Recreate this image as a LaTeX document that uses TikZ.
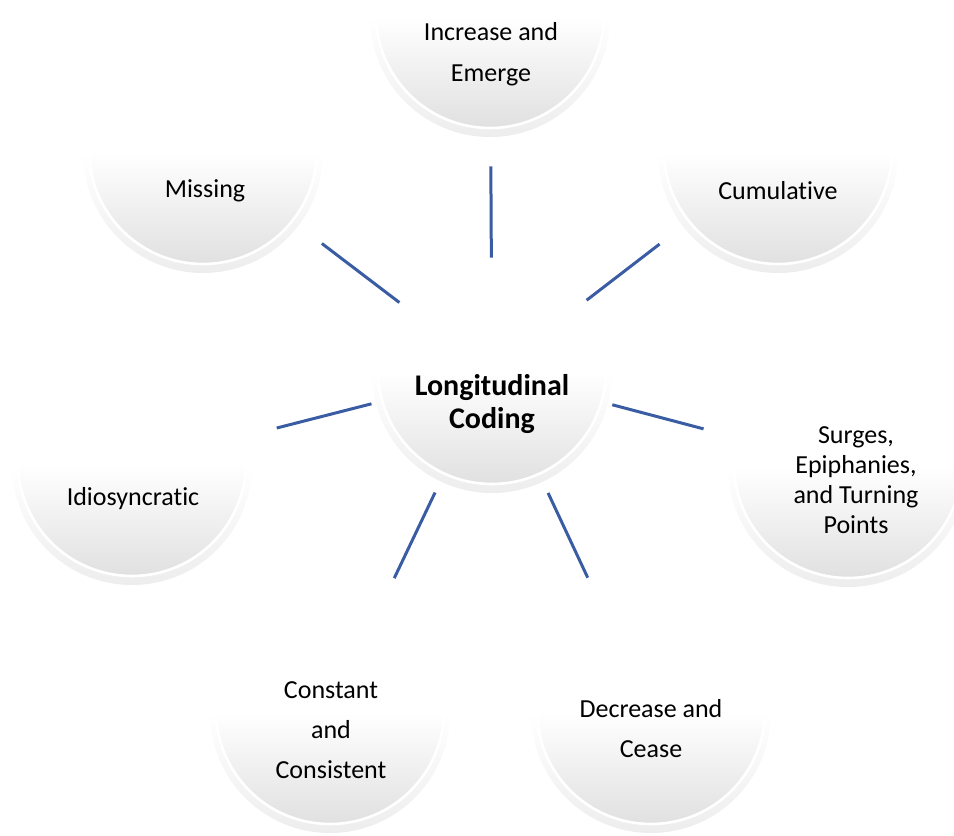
\documentclass[tikz,border=0pt]{standalone}
\usepackage{fontspec}
\setmainfont{Carlito}[Ligatures=NoCommon]
\usepackage{tikz}

\definecolor{spokeblue}{RGB}{58,92,163}

\begin{document}
\begin{tikzpicture}[x=0.5pt,y=-0.5pt,
  outer node/.style={circle,minimum size=120pt,inner sep=0pt,
    top color=white,bottom color=black!7,middle color=white,
    path picture={
      \shade[top color=white,bottom color=black!13,middle color=white]
        ([yshift=1.5pt]path picture bounding box.center) circle (57pt);
      \draw[white,line width=1.3pt]
        ([yshift=1.5pt]path picture bounding box.center) circle (57pt);}},
  hub node/.style={outer node},
  label text/.style={align=center,font=\fontsize{13}{20.5}\selectfont},
  hub text/.style={align=center,font=\fontsize{15}{16.5}\selectfont\bfseries},
  spoke/.style={draw=spokeblue,line width=1.5pt,shorten >=14.5pt}]

  \useasboundingbox (0,0) rectangle (954,836);

  \node[hub node] (hub) at (492,373) {};
  \node[outer node] (1) at (490,17) {};
  \node[outer node] (2) at (778,153) {};
  \node[outer node] (3) at (848,467) {};
  \node[outer node] (4) at (651,713) {};
  \node[outer node] (5) at (330,713) {};
  \node[outer node] (6) at (132,465) {};
  \node[outer node] (7) at (203,153) {};

  \node[hub text] (hub-t) at (492,404) {Longitudinal\\Coding};
  \node[label text] (1-t) at (491,54) {Increase and\\Emerge};
  \node[label text] (2-t) at (778,191) {Cumulative};
  \node[label text,font=\fontsize{13}{15}\selectfont] (3-t) at (856,480)
    {Surges,\\Epiphanies,\\and Turning\\Points};
  \node[label text,font=\fontsize{13}{20}\selectfont] (4-t) at (651,729)
    {Decrease and\\Cease};
  \node[label text,font=\fontsize{13}{20}\selectfont] (5-t) at (331,730)
    {Constant\\and\\Consistent};
  \node[label text] (6-t) at (133,499) {Idiosyncratic};
  \node[label text] (7-t) at (205,191) {Missing};

  \path[every edge/.style={spoke}]
    (hub) edge [shorten <=-2.5pt] (1)
          edge [shorten <=-0.5pt] (2)
          edge [shorten <=2pt] (3)
          edge [shorten <=6pt] (4)
          edge [shorten <=6pt] (5)
          edge [shorten <=2pt] (6)
          edge [shorten <=-2pt] (7);
\end{tikzpicture}
\end{document}
